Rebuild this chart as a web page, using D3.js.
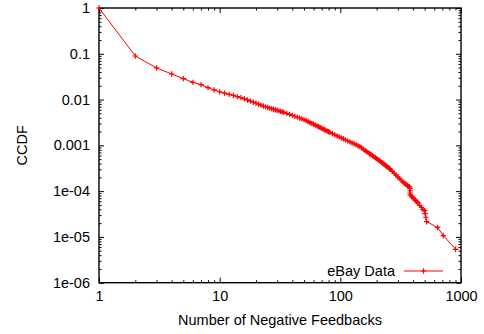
<!DOCTYPE html>
<html>
<head>
<meta charset="utf-8">
<script src="https://cdn.jsdelivr.net/npm/d3@7"></script>
<style>
  html, body { margin: 0; padding: 0; background: #fff; }
  svg { display: block; font-family: "Liberation Sans", Arial, Helvetica, sans-serif; }
</style>
</head>
<body>
<svg id="chart" width="484" height="334"></svg>
<script>
// Number of negative feedbacks received (x) and the fraction of users with at least that many (CCDF)
const negFeedbacks = [
  1, 2, 3, 4, 5, 6, 7, 8, 9, 10,
  11, 12, 13, 14, 15, 16, 17, 18, 19, 20,
  21, 22, 23, 24, 25, 26, 27, 28, 29, 30,
  31, 32, 33, 34, 36, 38, 40, 42, 44, 46,
  48, 50, 52, 54, 56, 58, 60, 62, 64, 66,
  68, 70, 72, 74, 76, 78, 80, 82, 86, 90,
  94, 98, 102, 106, 110, 115, 120, 125, 130, 135,
  140, 145, 150, 155, 160, 165, 170, 175, 180, 185,
  190, 195, 200, 205, 210, 215, 220, 225, 230, 235,
  240, 245, 250, 255, 260, 270, 280, 290, 300, 310,
  320, 330, 340, 350, 360, 368, 375, 377, 378, 379,
  380, 390, 400, 410, 420, 430, 440, 455, 470, 485,
  500, 505, 510, 519, 640, 713, 902
];
const ccdf = [
  1, 0.0895, 0.049, 0.0362, 0.0286, 0.0238, 0.0212, 0.0182, 0.0162, 0.0148,
  0.0138, 0.0130, 0.0123, 0.0116, 0.0110, 0.0104, 0.00981, 0.00926, 0.00877, 0.00832,
  0.00792, 0.00755, 0.00722, 0.00694, 0.00672, 0.00651, 0.00632, 0.00614, 0.00597, 0.00581,
  0.00567, 0.00553, 0.00539, 0.00527, 0.00500, 0.00475, 0.00452, 0.00432, 0.00413, 0.00396,
  0.00380, 0.00365, 0.00349, 0.00332, 0.00316, 0.00302, 0.00289, 0.00277, 0.00265, 0.00255,
  0.00245, 0.00236, 0.00227, 0.00219, 0.00212, 0.00204, 0.00198, 0.00191, 0.00180, 0.00170,
  0.00161, 0.00153, 0.00146, 0.00139, 0.00132, 0.00125, 0.00119, 0.00113, 0.00108, 0.00103,
  0.000982, 0.000940, 0.000881, 0.000827, 0.000777, 0.000730, 0.000692, 0.000656, 0.000622, 0.000591,
  0.000563, 0.000536, 0.000512, 0.000489, 0.000467, 0.000446, 0.000425, 0.000406, 0.000388, 0.000370,
  0.000354, 0.000339, 0.000326, 0.000312, 0.000298, 0.000270, 0.000245, 0.000223, 0.000204, 0.000188,
  0.000173, 0.000159, 0.000149, 0.000141, 0.000132, 0.000127, 0.000124, 0.000115, 0.000102, 0.0000910,
  0.0000830, 0.0000768, 0.0000716, 0.0000669, 0.0000626, 0.0000587, 0.0000552, 0.0000491, 0.0000440, 0.0000396,
  0.0000376, 0.0000322, 0.0000269, 0.0000215, 0.0000161, 0.0000107, 0.00000537
];

const xTickValues = [1, 10, 100, 1000];
const xTickLabels = ["1", "10", "100", "1000"];
const yTickValues = [1, 0.1, 0.01, 0.001, 1e-4, 1e-5, 1e-6];
const yTickLabels = ["1", "0.1", "0.01", "0.001", "1e-04", "1e-05", "1e-06"];
const seriesName = "eBay Data";
const xTitle = "Number of Negative Feedbacks";
const yTitle = "CCDF";

const W = 484, H = 334;
const margin = { top: 8, right: 23, bottom: 51.3, left: 99 };
const innerLeft = margin.left, innerRight = W - margin.right;
const innerTop = margin.top, innerBottom = H - margin.bottom;

const x = d3.scaleLog().domain([1, 1000]).range([innerLeft, innerRight]);
const y = d3.scaleLog().domain([1e-6, 1]).range([innerBottom, innerTop]);

// minor ticks at 2..9 inside each decade
const minorOf = (majors) => {
  const out = [];
  majors.slice().sort((a, b) => a - b).slice(0, -1).forEach(p => {
    for (let k = 2; k <= 9; k++) out.push(p * k);
  });
  return out;
};
const xMinor = minorOf(xTickValues);
const yMinor = minorOf(yTickValues);

const svg = d3.select("#chart");
const FONT = 14.5;
const MAJOR = 5, MINOR = 2.5;

function styleAxis(g) {
  g.select(".domain").remove();
  g.selectAll(".tick line").attr("stroke", "#000").attr("stroke-width", 1);
  g.selectAll(".tick text").attr("fill", "#000").style("font-size", FONT + "px")
    .style("font-family", '"Liberation Sans", Arial, Helvetica, sans-serif');
}

// bottom axis with labels
svg.append("g").attr("transform", `translate(0,${innerBottom})`)
  .call(d3.axisBottom(x).tickValues(xTickValues)
    .tickFormat((d, i) => xTickLabels[i])
    .tickSizeInner(-MAJOR).tickSizeOuter(0).tickPadding(8.5))
  .call(styleAxis);
svg.append("g").attr("transform", `translate(0,${innerBottom})`)
  .call(d3.axisBottom(x).tickValues(xMinor).tickFormat("").tickSizeInner(-MINOR).tickSizeOuter(0))
  .call(styleAxis);

// top mirror ticks
svg.append("g").attr("transform", `translate(0,${innerTop})`)
  .call(d3.axisTop(x).tickValues(xTickValues).tickFormat("").tickSizeInner(-MAJOR).tickSizeOuter(0))
  .call(styleAxis);
svg.append("g").attr("transform", `translate(0,${innerTop})`)
  .call(d3.axisTop(x).tickValues(xMinor).tickFormat("").tickSizeInner(-MINOR).tickSizeOuter(0))
  .call(styleAxis);

// left axis with labels
svg.append("g").attr("transform", `translate(${innerLeft},0)`)
  .call(d3.axisLeft(y).tickValues(yTickValues)
    .tickFormat((d, i) => yTickLabels[i])
    .tickSizeInner(-MAJOR).tickSizeOuter(0).tickPadding(9))
  .call(styleAxis);
svg.append("g").attr("transform", `translate(${innerLeft},0)`)
  .call(d3.axisLeft(y).tickValues(yMinor).tickFormat("").tickSizeInner(-MINOR).tickSizeOuter(0))
  .call(styleAxis);

// right mirror ticks
svg.append("g").attr("transform", `translate(${innerRight},0)`)
  .call(d3.axisRight(y).tickValues(yTickValues).tickFormat("").tickSizeInner(-MAJOR).tickSizeOuter(0))
  .call(styleAxis);
svg.append("g").attr("transform", `translate(${innerRight},0)`)
  .call(d3.axisRight(y).tickValues(yMinor).tickFormat("").tickSizeInner(-MINOR).tickSizeOuter(0))
  .call(styleAxis);

// plot frame
svg.append("rect")
  .attr("x", innerLeft).attr("y", innerTop)
  .attr("width", innerRight - innerLeft).attr("height", innerBottom - innerTop)
  .attr("fill", "none").attr("stroke", "#000").attr("stroke-width", 1.4);

// series
const RED = "#ff0000";
const points = negFeedbacks.map((v, i) => [v, ccdf[i]]);
const plus = "M-2.7,0H2.7M0,-2.7V2.7";

svg.append("path")
  .datum(points)
  .attr("fill", "none").attr("stroke", RED).attr("stroke-width", 1)
  .attr("d", d3.line().x(d => x(d[0])).y(d => y(d[1])));

svg.append("g").selectAll("path.pt")
  .data(points).join("path")
  .attr("class", "pt")
  .attr("transform", d => `translate(${x(d[0])},${y(d[1])})`)
  .attr("d", plus)
  .attr("fill", "none").attr("stroke", RED).attr("stroke-width", 1.2);

// legend (bottom right, inside the frame)
const legend = svg.append("g");
legend.append("text")
  .attr("x", 395).attr("y", 275.5)
  .attr("text-anchor", "end")
  .style("font-size", FONT + "px").attr("fill", "#000")
  .text(seriesName);
legend.append("line")
  .attr("x1", 404).attr("x2", 443).attr("y1", 271).attr("y2", 271)
  .attr("stroke", RED).attr("stroke-width", 1);
legend.append("path")
  .attr("transform", "translate(423.5,271)")
  .attr("d", plus).attr("fill", "none").attr("stroke", RED).attr("stroke-width", 1.2);

// axis titles
svg.append("text")
  .attr("x", (innerLeft + innerRight) / 2).attr("y", 325)
  .attr("text-anchor", "middle")
  .style("font-size", FONT + "px").attr("fill", "#000")
  .text(xTitle);

svg.append("text")
  .attr("transform", `translate(26.5,${(innerTop + innerBottom) / 2}) rotate(-90)`)
  .attr("text-anchor", "middle")
  .style("font-size", FONT + "px").attr("fill", "#000")
  .text(yTitle);
</script>
</body>
</html>
